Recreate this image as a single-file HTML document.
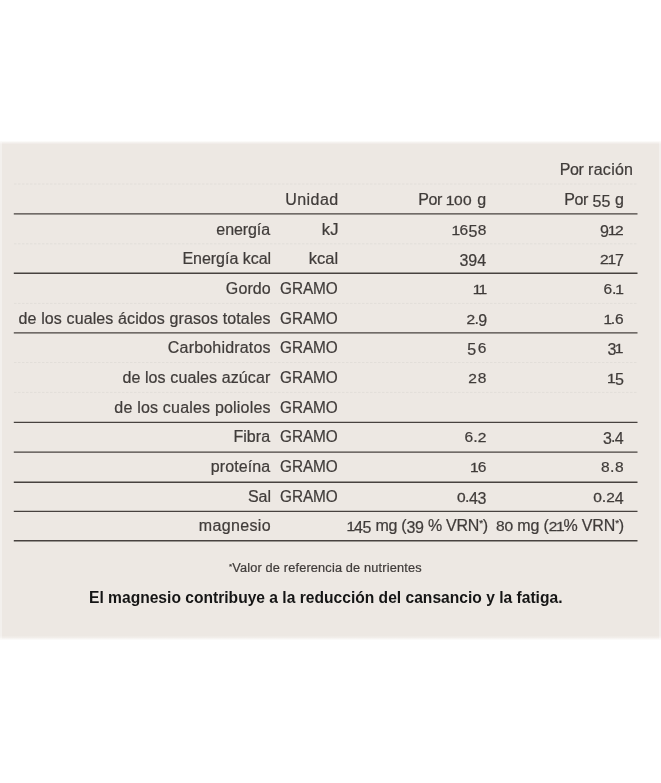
<!DOCTYPE html>
<html lang="es"><head><meta charset="utf-8"><title>Información nutricional</title>
<style>
html,body{margin:0;padding:0;background:#fff;}
body{width:661px;height:783px;position:relative;overflow:hidden;font-family:"Liberation Sans",sans-serif;color:#403c3a;-webkit-text-stroke:0.22px #403c3a;}
.box{position:absolute;left:0;top:0;width:661px;height:783px;}
.t{position:absolute;white-space:nowrap;line-height:20px;height:20px;}
.b{font-weight:bold;color:#151515;-webkit-text-stroke:0;}
.a{font-size:.62em;position:relative;top:-.42em;}
.n{font-size:.97em;}
.x{font-size:.97em;display:inline-block;transform:scale(1,.8);transform-origin:50% 77.5%;}
.o{margin:0 -.07em;}
.p{letter-spacing:-.45px;}
.x{-webkit-text-stroke:.32px #403c3a;}
.d{position:relative;top:.14em;}
</style></head><body>
<svg class="box" width="661" height="783" viewBox="0 0 661 783">
<defs>
<linearGradient id="gt" x1="0" y1="0" x2="0" y2="1"><stop offset="0" stop-color="#fff"/><stop offset="1" stop-color="#ede8e3"/></linearGradient>
<linearGradient id="gb" x1="0" y1="0" x2="0" y2="1"><stop offset="0" stop-color="#ede8e3"/><stop offset="1" stop-color="#fff"/></linearGradient>
</defs>
<rect x="0" y="140.8" width="661" height="3" fill="url(#gt)"/>
<rect x="0" y="143.7" width="661" height="493" fill="#ede8e3"/>
<rect x="0" y="636.5" width="661" height="3.8" fill="url(#gb)"/>
<rect x="0" y="142" width="2" height="497" fill="#fff" fill-opacity=".35"/>
<rect x="659" y="142" width="2" height="497" fill="#fff" fill-opacity=".35"/>
<g stroke="#e2ded9" stroke-width="1" stroke-dasharray="2.5 1.5" fill="none">
<line x1="14" y1="184.00" x2="637.5" y2="184.00"/>
<line x1="14" y1="243.80" x2="637.5" y2="243.80"/>
<line x1="14" y1="303.40" x2="637.5" y2="303.40"/>
<line x1="14" y1="362.50" x2="637.5" y2="362.50"/>
<line x1="14" y1="392.40" x2="637.5" y2="392.40"/>
</g>
<g stroke="#47423f" stroke-width="1.4" fill="none">
<line x1="13.8" y1="213.86" x2="637.5" y2="213.86"/>
<line x1="13.8" y1="273.30" x2="637.5" y2="273.30"/>
<line x1="13.8" y1="332.90" x2="637.5" y2="332.90"/>
<line x1="13.8" y1="422.36" x2="637.5" y2="422.36"/>
<line x1="13.8" y1="452.10" x2="637.5" y2="452.10"/>
<line x1="13.8" y1="482.30" x2="637.5" y2="482.30"/>
<line x1="13.8" y1="511.34" x2="637.5" y2="511.34"/>
<line x1="13.8" y1="540.70" x2="637.5" y2="540.70"/>
</g>
</svg>
<div class="t" style="left:559.84px;top:159.5px;font-size:16px;letter-spacing:0.268px"><span class="p">Por</span> ración</div>
<div class="t" style="left:285.34px;top:189.5px;font-size:16px;letter-spacing:0.411px">Unidad</div>
<div class="t" style="left:418.35px;top:189.5px;font-size:16px;letter-spacing:0.526px"><span class="p">Por</span> <span class="x o">1</span><span class="x">0</span><span class="x">0</span> g</div>
<div class="t" style="left:564.35px;top:189.5px;font-size:16px;letter-spacing:0.112px"><span class="p">Por</span> <span class="d">5</span><span class="d">5</span> g</div>
<div class="t" style="left:216.36px;top:219.5px;font-size:16px;letter-spacing:-0.099px">energía</div>
<div class="t" style="left:321.70px;top:219.0px;font-size:16.5px;letter-spacing:0.229px">kJ</div>
<div class="t" style="left:452.66px;top:219.5px;font-size:16px;letter-spacing:0.361px"><span class="x o">1</span><span class="n">6</span><span class="d">5</span><span class="n">8</span></div>
<div class="t" style="left:600.03px;top:219.5px;font-size:16px;letter-spacing:-0.145px"><span class="d">9</span><span class="x o">1</span><span class="x">2</span></div>
<div class="t" style="left:182.39px;top:248.5px;font-size:16px;letter-spacing:-0.023px">Energía kcal</div>
<div class="t" style="left:308.63px;top:248.0px;font-size:16.5px;letter-spacing:0.103px">kcal</div>
<div class="t" style="left:459.51px;top:248.5px;font-size:16px;letter-spacing:-0.100px"><span class="d">3</span><span class="d">9</span><span class="d">4</span></div>
<div class="t" style="left:599.91px;top:248.5px;font-size:16px;letter-spacing:-0.038px"><span class="x">2</span><span class="x o">1</span><span class="d">7</span></div>
<div class="t" style="left:225.86px;top:278.5px;font-size:16px;letter-spacing:0.086px">Gordo</div>
<div class="t" style="left:280.20px;top:278.5px;font-size:16px;letter-spacing:-0.071px;transform:scale(0.96,1);transform-origin:0 77.5%">GRAMO</div>
<div class="t" style="left:473.79px;top:278.5px;font-size:16px;letter-spacing:-0.700px"><span class="x o">1</span><span class="x o">1</span></div>
<div class="t" style="left:603.50px;top:278.5px;font-size:16px;letter-spacing:-0.194px"><span class="n">6</span>.<span class="x o">1</span></div>
<div class="t" style="left:18.62px;top:308.5px;font-size:16px;letter-spacing:0.112px">de los cuales ácidos grasos totales</div>
<div class="t" style="left:280.20px;top:308.5px;font-size:16px;letter-spacing:-0.071px;transform:scale(0.96,1);transform-origin:0 77.5%">GRAMO</div>
<div class="t" style="left:466.60px;top:308.5px;font-size:16px;letter-spacing:-0.700px"><span class="x">2</span>.<span class="d">9</span></div>
<div class="t" style="left:604.66px;top:308.5px;font-size:16px;letter-spacing:-0.286px"><span class="x o">1</span>.<span class="n">6</span></div>
<div class="t" style="left:167.82px;top:337.5px;font-size:16px;letter-spacing:0.187px">Carbohidratos</div>
<div class="t" style="left:280.20px;top:337.5px;font-size:16px;letter-spacing:-0.071px;transform:scale(0.96,1);transform-origin:0 77.5%">GRAMO</div>
<div class="t" style="left:467.34px;top:337.5px;font-size:16px;letter-spacing:1.569px"><span class="d">5</span><span class="n">6</span></div>
<div class="t" style="left:607.51px;top:337.5px;font-size:16px;letter-spacing:-0.700px"><span class="d">3</span><span class="x o">1</span></div>
<div class="t" style="left:122.38px;top:367.5px;font-size:16px;letter-spacing:0.108px">de los cuales azúcar</div>
<div class="t" style="left:280.20px;top:367.5px;font-size:16px;letter-spacing:-0.071px;transform:scale(0.96,1);transform-origin:0 77.5%">GRAMO</div>
<div class="t" style="left:468.30px;top:367.5px;font-size:16px;letter-spacing:0.779px"><span class="x">2</span><span class="n">8</span></div>
<div class="t" style="left:608.00px;top:367.5px;font-size:16px;letter-spacing:0.485px"><span class="x o">1</span><span class="d">5</span></div>
<div class="t" style="left:114.37px;top:397.5px;font-size:16px;letter-spacing:0.195px">de los cuales polioles</div>
<div class="t" style="left:280.20px;top:397.5px;font-size:16px;letter-spacing:-0.071px;transform:scale(0.96,1);transform-origin:0 77.5%">GRAMO</div>
<div class="t" style="left:233.52px;top:426.5px;font-size:16px;letter-spacing:0.014px">Fibra</div>
<div class="t" style="left:280.20px;top:426.5px;font-size:16px;letter-spacing:-0.071px;transform:scale(0.96,1);transform-origin:0 77.5%">GRAMO</div>
<div class="t" style="left:464.50px;top:426.5px;font-size:16px;letter-spacing:0.027px"><span class="n">6</span>.<span class="x">2</span></div>
<div class="t" style="left:602.91px;top:426.5px;font-size:16px;letter-spacing:-0.700px"><span class="d">3</span>.<span class="d">4</span></div>
<div class="t" style="left:210.82px;top:456.5px;font-size:16px;letter-spacing:0.072px">proteína</div>
<div class="t" style="left:280.20px;top:456.5px;font-size:16px;letter-spacing:-0.071px;transform:scale(0.96,1);transform-origin:0 77.5%">GRAMO</div>
<div class="t" style="left:471.00px;top:456.5px;font-size:16px;letter-spacing:0.177px"><span class="x o">1</span><span class="n">6</span></div>
<div class="t" style="left:600.93px;top:456.5px;font-size:16px;letter-spacing:0.552px"><span class="n">8</span>.<span class="n">8</span></div>
<div class="t" style="left:247.99px;top:486.5px;font-size:16px;letter-spacing:-0.041px">Sal</div>
<div class="t" style="left:280.20px;top:486.5px;font-size:16px;letter-spacing:-0.071px;transform:scale(0.96,1);transform-origin:0 77.5%">GRAMO</div>
<div class="t" style="left:457.02px;top:486.5px;font-size:16px;letter-spacing:-0.536px"><span class="x">0</span>.<span class="d">4</span><span class="d">3</span></div>
<div class="t" style="left:593.22px;top:486.5px;font-size:16px;letter-spacing:-0.074px"><span class="x">0</span>.<span class="x">2</span><span class="d">4</span></div>
<div class="t" style="left:198.77px;top:515.5px;font-size:16px;letter-spacing:0.361px">magnesio</div>
<div class="t" style="left:347.66px;top:515.5px;font-size:16px;letter-spacing:-0.248px"><span class="x o">1</span><span class="d">4</span><span class="d">5</span> mg (<span class="d">3</span><span class="d">9</span> % VRN<span class="a">*</span>)</div>
<div class="t" style="left:495.97px;top:515.5px;font-size:16px;letter-spacing:-0.152px"><span class="n">8</span><span class="x">0</span> mg (<span class="x">2</span><span class="x o">1</span>% VRN<span class="a">*</span>)</div>
<div class="t" style="left:229.37px;top:558.0px;font-size:12.5px;letter-spacing:0.161px;transform:scale(1.02,1);transform-origin:0 77.5%"><span class="a">*</span>Valor de referencia de nutrientes</div>
<div class="t b" style="left:88.93px;top:587.5px;font-size:16px;letter-spacing:0.002px;transform:scale(0.975,1);transform-origin:0 77.5%">El magnesio contribuye a la reducción del cansancio y la fatiga.</div>
</body></html>
